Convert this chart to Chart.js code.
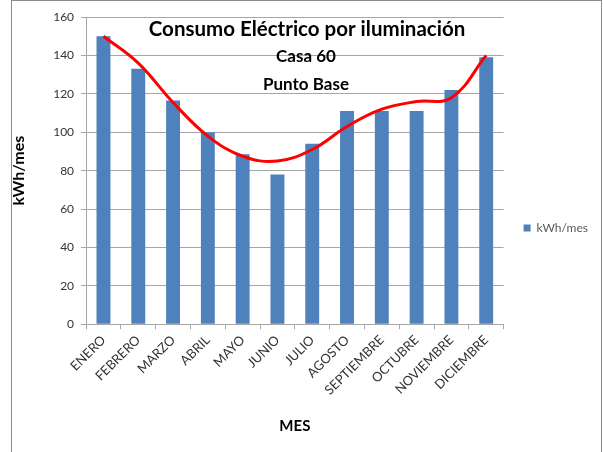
<!DOCTYPE html>
<html lang="es">
<head>
    <meta charset="UTF-8">
    <title>Consumo Eléctrico por iluminación</title>
    <script src="https://cdn.jsdelivr.net/npm/chart.js"></script>
    <style>
        html, body { margin: 0; padding: 0; background: #fff; }
        .wrap { position: relative; width: 603px; height: 452px; overflow: hidden; }
        .frame {
            position: absolute; left: 11px; top: 0; width: 589px; height: 470px;
            border: 1px solid #8c8c8c; pointer-events: none;
        }
        canvas { position: absolute; left: 0; top: 0; }
    </style>
</head>
<body>
    <div class="wrap">
        <canvas id="chart" width="603" height="452"></canvas>
        <div class="frame"></div>
    </div>

    <script>
        // datos del gráfico
        const meses = ['ENERO', 'FEBRERO', 'MARZO', 'ABRIL', 'MAYO', 'JUNIO', 'JULIO',
            'AGOSTO', 'SEPTIEMBRE', 'OCTUBRE', 'NOVIEMBRE', 'DICIEMBRE'];
        const consumo = [150, 133, 116.5, 100, 88.5, 78, 94, 111, 111, 111, 122, 139];
        // línea de tendencia
        const tendencia = [150, 136, 115.5, 98, 87.5, 85, 91, 103, 112, 116, 118, 140];
        const tituloLineas = ['Consumo Eléctrico por iluminación', 'Casa 60', 'Punto Base'];

        const FONT = 'Lato, "Open Sans", sans-serif';

        // título dibujado dentro del área del gráfico, como en Excel
        const tituloInterno = {
            id: 'tituloInterno',
            afterDraw(chart) {
                const ctx = chart.ctx;
                ctx.save();
                ctx.fillStyle = '#000';
                ctx.textAlign = 'center';
                ctx.textBaseline = 'middle';
                ctx.font = 'bold 20.5px ' + FONT;
                ctx.fillText(tituloLineas[0], 307, 29);
                ctx.font = 'bold 17px ' + FONT;
                ctx.fillText(tituloLineas[1], 306, 57);
                ctx.fillText(tituloLineas[2], 306, 85);
                ctx.restore();
            }
        };

        new Chart(document.getElementById('chart'), {
            type: 'bar',
            data: {
                labels: meses,
                datasets: [
                    {
                        type: 'line',
                        label: 'Tendencia',
                        data: tendencia,
                        borderColor: '#ff0000',
                        borderWidth: 3,
                        pointRadius: 0,
                        tension: 0.4,
                        fill: false,
                        order: 0
                    },
                    {
                        label: 'kWh/mes',
                        data: consumo,
                        backgroundColor: '#4f81bd',
                        barPercentage: 0.4,
                        categoryPercentage: 1,
                        order: 1
                    }
                ]
            },
            options: {
                responsive: false,
                animation: false,
                layout: { padding: { left: 7, top: 17, right: 5, bottom: 13 } },
                scales: {
                    y: {
                        min: 0,
                        max: 160,
                        ticks: { stepSize: 20, color: '#333', font: { family: FONT, size: 12 }, padding: 7 },
                        grid: { color: '#a6a6a6', tickLength: 5 },
                        border: { color: '#a6a6a6' },
                        title: { display: true, text: 'kWh/mes', color: '#000', padding: { top: 2, bottom: 18 }, font: { family: FONT, size: 16, weight: 'bold' } }
                    },
                    x: {
                        ticks: { minRotation: 45, maxRotation: 45, color: '#333', font: { family: FONT, size: 13 } },
                        grid: { drawOnChartArea: false, color: '#a6a6a6', tickLength: 5 },
                        border: { color: '#a6a6a6' },
                        title: { display: true, text: 'MES', color: '#000', padding: { top: 16 }, font: { family: FONT, size: 15, weight: 'bold' } }
                    }
                },
                plugins: {
                    legend: {
                        position: 'right',
                        labels: {
                            filter: item => item.text === 'kWh/mes',
                            boxWidth: 7,
                            boxHeight: 7,
                            padding: 20,
                            color: '#595959',
                            font: { family: FONT, size: 12 }
                        }
                    },
                    tooltip: { enabled: false }
                }
            },
            plugins: [tituloInterno]
        });
    </script>
</body>
</html>
